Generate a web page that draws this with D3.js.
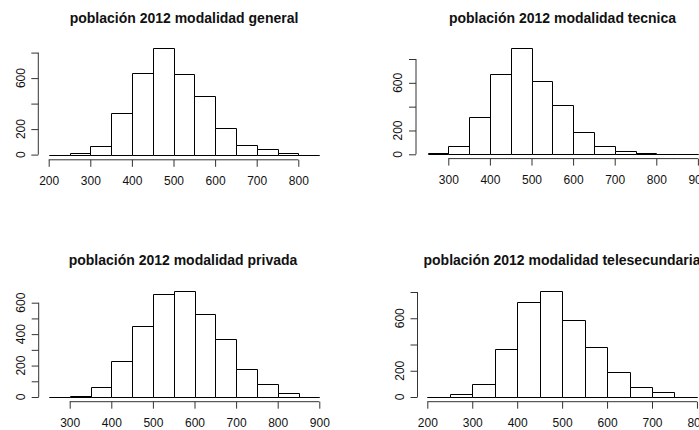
<!DOCTYPE html>
<html>
<head>
<meta charset="utf-8">
<script src="https://cdn.jsdelivr.net/npm/d3@7"></script>
<style>
  html, body { margin: 0; padding: 0; background: #fff; }
  svg { display: block; }
  text { font-family: "Liberation Sans", Arial, sans-serif; fill: #111; }
</style>
</head>
<body>
<svg id="chart" width="699" height="430"></svg>
<script>
// ---- data ----
const titles = [
  "población 2012 modalidad general",
  "población 2012 modalidad tecnica",
  "población 2012 modalidad privada",
  "población 2012 modalidad telesecundaria"
];
const breaksGeneral = [200,250,300,350,400,450,500,550,600,650,700,750,800,850];
const countsGeneral = [0,15,70,323,638,833,630,458,205,76,44,10,0];
const breaksTecnica = [250,300,350,400,450,500,550,600,650,700,750,800,850,900];
const countsTecnica = [14,72,311,672,890,613,414,187,70,25,7,0,0];
const breaksPrivada = [250,300,350,400,450,500,550,600,650,700,750,800,850,900];
const countsPrivada = [0,6,66,231,454,654,677,527,371,176,85,25,0];
const breaksTele = [200,250,300,350,400,450,500,550,600,650,700,750,800];
const countsTele = [0,20,97,366,727,811,585,379,191,79,38,0];

const xTicksGeneral = [200,300,400,500,600,700,800];
const xTicksTecnica = [300,400,500,600,700,800,900];
const xTicksPrivada = [300,400,500,600,700,800,900];
const xTicksTele = [200,300,400,500,600,700,800];
const yTicksGeneral = [0,200,400,600,800];
const yLabelsGeneral = [0,200,600];
const yTicksTecnica = [0,200,400,600,800];
const yLabelsTecnica = [0,200,600];
const yTicksPrivada = [0,100,200,300,400,500,600];
const yLabelsPrivada = [0,200,400,600];
const yTicksTele = [0,200,400,600,800];
const yLabelsTele = [0,200,600];

// ---- layout (pixel calibration of each panel) ----
const panels = [
  { title: titles[0], breaks: breaksGeneral, counts: countsGeneral, xt: xTicksGeneral, yt: yTicksGeneral, yl: yLabelsGeneral,
    xd: [200,800], xr: [48.7,298.3], yd: [0,800], yr: [154.6,52.6], axisY: 159.8, axisX: 38.3, titleX: 184, titleY: 23 },
  { title: titles[1], breaks: breaksTecnica, counts: countsTecnica, xt: xTicksTecnica, yt: yTicksTecnica, yl: yLabelsTecnica,
    xd: [300,800], xr: [448.3,656.3], yd: [0,800], yr: [154.3,59], axisY: 158.6, axisX: 416, titleX: 562.5, titleY: 23 },
  { title: titles[2], breaks: breaksPrivada, counts: countsPrivada, xt: xTicksPrivada, yt: yTicksPrivada, yl: yLabelsPrivada,
    xd: [300,900], xr: [69.7,319.3], yd: [0,600], yr: [397,302.7], axisY: 401.7, axisX: 38.7, titleX: 183, titleY: 265 },
  { title: titles[3], breaks: breaksTele, counts: countsTele, xt: xTicksTele, yt: yTicksTele, yl: yLabelsTele,
    xd: [200,700], xr: [427.3,652], yd: [0,800], yr: [397,292], axisY: 401.7, axisX: 417.5, titleX: 562, titleY: 265 }
];

const svg = d3.select("#chart");

panels.forEach(p => {
  const x = d3.scaleLinear().domain(p.xd).range(p.xr);
  const y = d3.scaleLinear().domain(p.yd).range(p.yr);
  const g = svg.append("g");

  // title
  g.append("text")
    .attr("x", p.titleX).attr("y", p.titleY)
    .attr("text-anchor", "middle")
    .style("font-weight", "bold").style("font-size", "14px")
    .text(p.title);

  // bars (drawn as closed outlines so zero-count bins still show their edge)
  const bins = p.counts.map((c, i) => ({ x0: p.breaks[i], x1: p.breaks[i + 1], c }));
  g.selectAll("path.bar").data(bins).join("path")
    .attr("class", "bar")
    .attr("d", d => {
      const l = Math.round(x(d.x0)) + 0.5, r = Math.round(x(d.x1)) + 0.5;
      const b = Math.round(y(0)) + 0.5, t = Math.round(y(d.c)) + 0.5;
      return `M${l},${b}L${l},${t}L${r},${t}L${r},${b}Z`;
    })
    .attr("fill", "#fff")
    .attr("stroke", "#000")
    .attr("stroke-width", 1);

  // x axis
  const xa = g.append("g").attr("transform", `translate(0,${p.axisY})`)
    .call(d3.axisBottom(x).tickValues(p.xt).tickSize(7).tickSizeOuter(0).tickPadding(9.5).tickFormat(d3.format("d")));
  xa.select(".domain").remove();
  xa.append("line")
    .attr("x1", x(p.xt[0])).attr("x2", x(p.xt[p.xt.length - 1]))
    .attr("stroke", "#333");
  xa.selectAll(".tick line").attr("stroke", "#333");
  xa.selectAll(".tick text").style("font-size", "12px").attr("fill", "#111").attr("font-family", null);

  // y axis
  const ya = g.append("g").attr("transform", `translate(${p.axisX},0)`)
    .call(d3.axisLeft(y).tickValues(p.yt).tickSize(7).tickSizeOuter(0).tickFormat(""));
  ya.select(".domain").remove();
  ya.append("line")
    .attr("y1", y(p.yt[0])).attr("y2", y(p.yt[p.yt.length - 1]))
    .attr("stroke", "#333");
  ya.selectAll(".tick line").attr("stroke", "#333");
  ya.selectAll("text.ylab").data(p.yl).join("text")
    .attr("class", "ylab")
    .attr("transform", d => `translate(-18,${y(d)}) rotate(-90)`)
    .attr("text-anchor", "middle")
    .attr("dy", "0.36em")
    .style("font-size", "12px")
    .text(d => d);
});
</script>
</body>
</html>
